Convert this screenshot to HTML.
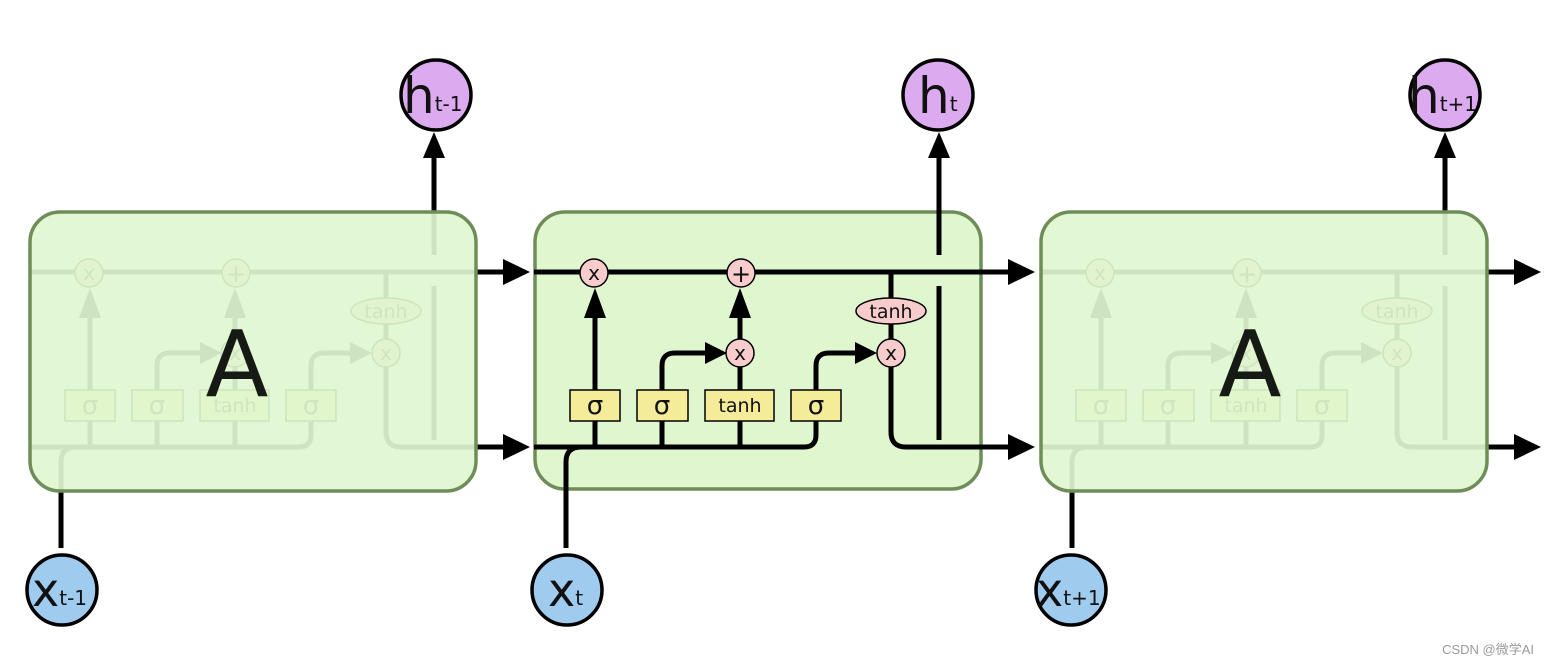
<!DOCTYPE html>
<html><head><meta charset="utf-8"><style>
html,body{margin:0;padding:0;background:#fff;}
svg{display:block;}
text{font-family:"DejaVu Sans","Liberation Sans",sans-serif;}
</style></head><body>
<svg width="1548" height="667" viewBox="0 0 1548 667" xmlns="http://www.w3.org/2000/svg">
<defs>
<g id="cell">
  <g fill="none" stroke="#000" stroke-width="5">
    <line x1="534" y1="272" x2="982" y2="272"/>
    <path d="M534 447 L804 447 Q816 447 816 435 L816 421"/>
    <path d="M816 390 L816 366 Q816 353 829 353 L860 353"/>
    <path d="M662 390 L662 366 Q662 353 675 353 L710 353"/>
    <line x1="595" y1="447" x2="595" y2="421"/>
    <line x1="662" y1="447" x2="662" y2="421"/>
    <line x1="740" y1="447" x2="740" y2="421"/>
    <line x1="595" y1="390" x2="595" y2="312"/>
    <line x1="740" y1="390" x2="740" y2="367"/>
    <line x1="740" y1="339" x2="740" y2="312"/>
    <line x1="891" y1="272" x2="891" y2="298"/>
    <line x1="891" y1="324" x2="891" y2="339"/>
    <path d="M891 367 L891 432 Q891 447 906 447 L982 447"/>
    <path d="M939 286 L939 440"/>
    <path d="M939 255 L939 212"/>
    <path d="M566 500 L566 462 Q566 447 581 447"/>
  </g>
  <g fill="#000">
    <polygon points="584,318 606,318 595,288"/>
    <polygon points="729,318 751,318 740,288"/>
    <polygon points="705,342 705,364 727,353"/>
    <polygon points="855,342 855,364 877,353"/>
  </g>
  <g stroke="#000" stroke-width="1.5">
    <circle cx="594" cy="273" r="14" fill="#f8cccc"/>
    <circle cx="741" cy="273" r="14" fill="#f8cccc"/>
    <circle cx="740" cy="353" r="14" fill="#f8cccc"/>
    <circle cx="891" cy="353" r="14" fill="#f8cccc"/>
    <ellipse cx="891" cy="311" rx="35" ry="13" fill="#f8cccc"/>
    <rect x="570" y="390" width="50" height="31" fill="#f5ec9a"/>
    <rect x="637" y="390" width="51" height="31" fill="#f5ec9a"/>
    <rect x="705" y="390" width="69" height="31" fill="#f5ec9a"/>
    <rect x="791" y="390" width="50" height="31" fill="#f5ec9a"/>
  </g>
  <g fill="#111" text-anchor="middle">
    <text x="594" y="280" font-size="20">x</text>
    <text x="741" y="282" font-size="24">+</text>
    <text x="740" y="360" font-size="20">x</text>
    <text x="891" y="360" font-size="20">x</text>
    <text x="891" y="318" font-size="19">tanh</text>
    <text x="595" y="414" font-size="26">σ</text>
    <text x="662" y="414" font-size="26">σ</text>
    <text x="740" y="412" font-size="19">tanh</text>
    <text x="816" y="414" font-size="26">σ</text>
  </g>
</g>
<g id="ends">
  <g stroke="#000" stroke-width="5" fill="none">
    <line x1="939" y1="212" x2="939" y2="156"/>
    <line x1="566" y1="548" x2="566" y2="490"/>
    <line x1="980" y1="272" x2="1012" y2="272"/>
    <line x1="980" y1="447" x2="1012" y2="447"/>
  </g>
  <g fill="#000">
    <polygon points="928,158 950,158 939,132"/>
    <polygon points="1008,259 1008,285 1035,272"/>
    <polygon points="1008,434 1008,460 1035,447"/>
  </g>
</g>
</defs>

<g transform="translate(-505,0)">
  <use href="#cell"/>
  <use href="#ends"/>
  <rect x="535" y="212" width="446" height="279" rx="30" fill="#dff6cf" fill-opacity="0.92" stroke="#6f8d58" stroke-width="3.5"/>
  <text x="742" y="396" font-size="92" text-anchor="middle" fill="#161a14">A</text>
</g>
<rect x="535" y="212" width="446" height="277" rx="30" fill="#dff6cf" stroke="#6f8d58" stroke-width="3.5"/>
<use href="#cell"/>
<use href="#ends"/>
<g transform="translate(506,0)">
  <use href="#cell"/>
  <use href="#ends"/>
  <rect x="535" y="212" width="446" height="279" rx="30" fill="#dff6cf" fill-opacity="0.92" stroke="#6f8d58" stroke-width="3.5"/>
  <text x="744" y="396" font-size="92" text-anchor="middle" fill="#161a14">A</text>
</g>

<g stroke="#000" stroke-width="3.5" fill="#dcaaee">
  <circle cx="436" cy="95" r="35"/>
  <circle cx="938" cy="95" r="35"/>
  <circle cx="1445" cy="95" r="35"/>
</g>
<g fill="#111">
  <text x="403" y="113" font-size="50">h<tspan font-size="20" dy="-2">t-1</tspan></text>
  <text x="918" y="113" font-size="50">h<tspan font-size="20" dy="-2">t</tspan></text>
  <text x="1408" y="113" font-size="50">h<tspan font-size="20" dy="-2">t+1</tspan></text>
</g>
<g stroke="#000" stroke-width="3.5" fill="#9fcbee">
  <circle cx="62" cy="590" r="35"/>
  <circle cx="567" cy="590" r="35"/>
  <circle cx="1071" cy="590" r="35"/>
</g>
<g fill="#111">
  <text x="32" y="606" font-size="46">x<tspan font-size="20" dy="-1">t-1</tspan></text>
  <text x="548" y="606" font-size="46">x<tspan font-size="20" dy="-1">t</tspan></text>
  <text x="1036" y="606" font-size="46">x<tspan font-size="20" dy="-1">t+1</tspan></text>
</g>
<text x="1534" y="654" font-size="13" text-anchor="end" fill="#999" style='font-family:"Liberation Sans","Noto Sans CJK SC",sans-serif'>CSDN @微学AI</text>
</svg>
</body></html>
